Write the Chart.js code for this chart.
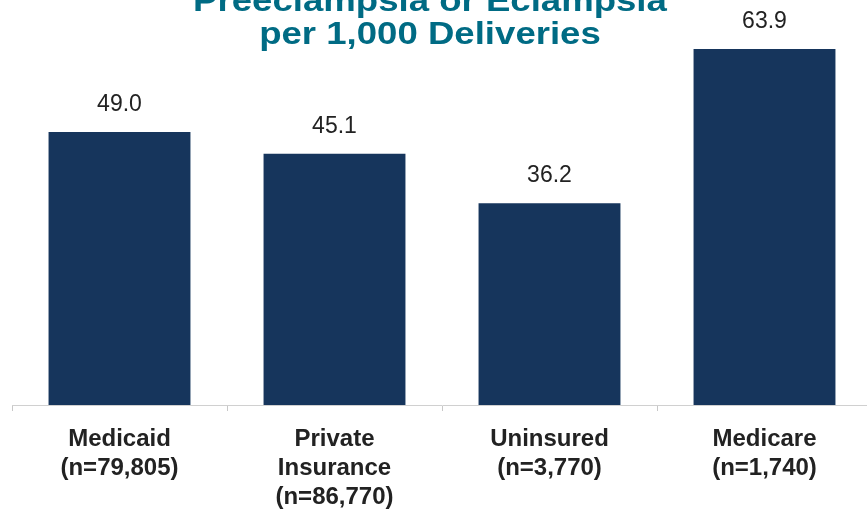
<!DOCTYPE html>
<html>
<head>
<meta charset="utf-8">
<script src="https://cdn.jsdelivr.net/npm/chart.js@4/dist/chart.umd.min.js"></script>
<style>
  html, body { margin: 0; padding: 0; background: #fff; overflow: hidden; }
  #wrap { position: relative; width: 880px; height: 526px; }
  #title {
    position: absolute; left: 0; width: 860px; top: -16px;
    text-align: center; color: #006b84;
    font: bold 31px "Liberation Sans", Arial, sans-serif; line-height: 33px;
    transform: scaleX(1.18); transform-origin: 430px 0;
  }
</style>
</head>
<body>
<div id="wrap">
  <canvas id="chart" width="880" height="526"></canvas>
  <div id="title">Preeclampsia or Eclampsia<br>per 1,000 Deliveries</div>
</div>
<script>
const categories = [
  ["Medicaid", "(n=79,805)"],
  ["Private", "Insurance", "(n=86,770)"],
  ["Uninsured", "(n=3,770)"],
  ["Medicare", "(n=1,740)"]
];
const rates = [49.0, 45.1, 36.2, 63.9];

// valeurs au-dessus des barres
const valueLabels = {
  id: "valueLabels",
  afterDatasetsDraw(chart) {
    const ctx = chart.ctx;
    const meta = chart.getDatasetMeta(0);
    ctx.save();
    ctx.fillStyle = "#222";
    ctx.font = "23px 'Liberation Sans', Arial, sans-serif";
    ctx.textAlign = "center";
    ctx.textBaseline = "bottom";
    meta.data.forEach((bar, i) => {
      ctx.fillText(rates[i].toFixed(1), bar.x, bar.y - 16);
    });
    ctx.restore();
  },
};

const ctx = document.getElementById("chart").getContext("2d");
new Chart(ctx, {
  type: "bar",
  plugins: [valueLabels],
  data: {
    labels: categories,
    datasets: [
      {
        data: rates,
        backgroundColor: "#16355c",
        barPercentage: 0.66,
        categoryPercentage: 1,
      },
    ],
  },
  options: {
    responsive: false,
    animation: false,
    layout: { padding: { left: 12, right: 8, top: 15, bottom: 0 } },
    plugins: { legend: { display: false }, tooltip: { enabled: false } },
    scales: {
      y: { display: false, min: 0, max: 70 },
      x: {
        border: { color: "#d0d0d0", width: 1 },
        grid: { drawOnChartArea: false, color: "#c8c8c8", tickLength: 6, offset: true },
        ticks: {
          color: "#222",
          padding: 14,
          maxRotation: 0,
          font: { family: "'Liberation Sans', Arial, sans-serif", size: 24, weight: "bold", lineHeight: "29px" },
        },
      },
    },
  },
});
</script>
</body>
</html>
